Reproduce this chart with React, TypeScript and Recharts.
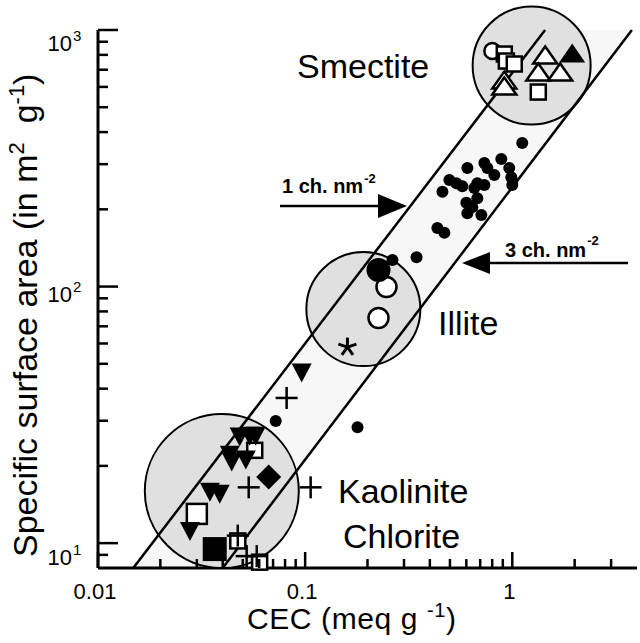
import React from 'react';
import { ComposedChart, Area, Scatter, XAxis, YAxis } from 'recharts';

const W = 640;
const H = 643;
const FONT = 'Liberation Sans, Arial, Helvetica, sans-serif';

// axes: CEC (meq/g) vs specific surface area (m2/g), both log
const xTicks = [0.01, 0.02, 0.03, 0.04, 0.05, 0.06, 0.07, 0.08, 0.09, 0.1, 0.2, 0.3, 0.4, 0.5, 0.6, 0.7, 0.8, 0.9, 1, 2, 3];
const xTickLabels: Record<string, string> = { '0.01': '0.01', '0.1': '0.1', '1': '1' };
const yTicks = [9, 10, 20, 30, 40, 50, 60, 70, 80, 90, 100, 200, 300, 400, 500, 600, 700, 800, 900, 1000];
const yTickExponents: Record<string, string> = { '10': '1', '100': '2', '1000': '3' };

// band limits (1 and 3 charges per nm2)
const edge1 = [{ cec: 0.0148, ssa: 8 }, { cec: 1.44, ssa: 1000 }];
const edge3 = [{ cec: 0.04, ssa: 8 }, { cec: 3.78, ssa: 1000 }];
const bandFill = [
  { cec: 0.0148, band: [8, 8] },
  { cec: 0.04, band: [8, 22.8] },
  { cec: 1.44, band: [359, 1000] },
  { cec: 3.78, band: [1000, 1000] },
];

// mineral groups
const zones = [
  { name: 'Smectite', cec: 1.24, ssa: 727 },
  { name: 'Illite', cec: 0.191, ssa: 81.7 },
  { name: 'Kaolinite', cec: 0.0396, ssa: 15.95 },
];
const zoneRadius: Record<string, number> = { Smectite: 59, Illite: 57, Kaolinite: 77 };

// measured samples, one array per symbol
const dots = [
  { cec: 1.117, ssa: 363 }, { cec: 0.885, ssa: 314 }, { cec: 0.967, ssa: 290 }, { cec: 0.989, ssa: 267 },
  { cec: 1.0, ssa: 249 }, { cec: 0.733, ssa: 303 }, { cec: 0.758, ssa: 290 }, { cec: 0.819, ssa: 272 },
  { cec: 0.607, ssa: 290 }, { cec: 0.497, ssa: 260 }, { cec: 0.537, ssa: 253 }, { cec: 0.574, ssa: 246 },
  { cec: 0.678, ssa: 253 }, { cec: 0.733, ssa: 249 }, { cec: 0.656, ssa: 242 }, { cec: 0.46, ssa: 234 },
  { cec: 0.678, ssa: 221 }, { cec: 0.6, ssa: 212 }, { cec: 0.641, ssa: 204 }, { cec: 0.607, ssa: 193 },
  { cec: 0.709, ssa: 190 }, { cec: 0.435, ssa: 169 }, { cec: 0.47, ssa: 162 }, { cec: 0.345, ssa: 130 },
  { cec: 0.264, ssa: 127 }, { cec: 0.0721, ssa: 29.9 }, { cec: 0.179, ssa: 28.3 },
];
const bigDots = [{ cec: 0.226, ssa: 116 }];
const openCircles = [{ cec: 0.247, ssa: 99.6 }, { cec: 0.226, ssa: 75.4 }];
const smallOpenCircles = [{ cec: 0.801, ssa: 828 }];
const openSquares = [
  { cec: 0.915, ssa: 806 }, { cec: 0.936, ssa: 757 }, { cec: 1.022, ssa: 737 }, { cec: 1.335, ssa: 573 },
  { cec: 0.0571, ssa: 23.0 }, { cec: 0.0473, ssa: 10.2 }, { cec: 0.0603, ssa: 8.43 },
];
const bigOpenSquares = [{ cec: 0.03, ssa: 13.0 }];
const openTriangles = [
  { cec: 0.915, ssa: 638 }, { cec: 0.915, ssa: 605 }, { cec: 1.442, ssa: 799 },
  { cec: 1.335, ssa: 686 }, { cec: 1.703, ssa: 686 },
];
const filledTriangles = [{ cec: 1.946, ssa: 813 }];
const downTriangles = [
  { cec: 0.0483, ssa: 25.9 }, { cec: 0.054, ssa: 26.1 }, { cec: 0.0577, ssa: 26.1 }, { cec: 0.0433, ssa: 22.0 },
  { cec: 0.0442, ssa: 20.7 }, { cec: 0.0517, ssa: 21.1 }, { cec: 0.0347, ssa: 15.8 }, { cec: 0.0387, ssa: 15.5 },
  { cec: 0.0278, ssa: 11.1 }, { cec: 0.0962, ssa: 46.0 },
];
const diamonds = [{ cec: 0.0667, ssa: 18.1 }];
const filledSquares = [{ cec: 0.0366, ssa: 9.48 }];
const crosses = [
  { cec: 0.0814, ssa: 36.8 }, { cec: 0.0534, ssa: 16.5 }, { cec: 0.1063, ssa: 16.5 },
  { cec: 0.0473, ssa: 10.7 }, { cec: 0.0522, ssa: 8.9 }, { cec: 0.0584, ssa: 8.9 },
];
const asterisks = [{ cec: 0.16, ssa: 58.1 }];

const SW = 2.5;

const dot = (r: number) => (p: any) => <circle cx={p.cx} cy={p.cy} r={r} fill="#000" />;
const ring = (r: number) => (p: any) => (
  <circle cx={p.cx} cy={p.cy} r={r} fill="#fff" stroke="#000" strokeWidth={SW} />
);
const square = (s: number, filled: boolean) => (p: any) => (
  <rect x={p.cx - s / 2} y={p.cy - s / 2} width={s} height={s}
    fill={filled ? '#000' : '#fff'} stroke="#000" strokeWidth={filled ? 0 : SW} />
);
const triUp = (w: number, h: number, filled: boolean) => (p: any) => (
  <polygon
    points={`${p.cx - w / 2},${p.cy + h / 2} ${p.cx + w / 2},${p.cy + h / 2} ${p.cx},${p.cy - h / 2}`}
    fill={filled ? '#000' : '#fff'} stroke="#000" strokeWidth={filled ? 0 : SW} strokeLinejoin="miter" />
);
const triDown = (w: number, h: number) => (p: any) => (
  <polygon
    points={`${p.cx - w / 2},${p.cy - h / 2} ${p.cx + w / 2},${p.cy - h / 2} ${p.cx},${p.cy + h / 2}`}
    fill="#000" />
);
const diamond = (s: number) => (p: any) => (
  <polygon
    points={`${p.cx},${p.cy - s / 2} ${p.cx + s / 2},${p.cy} ${p.cx},${p.cy + s / 2} ${p.cx - s / 2},${p.cy}`}
    fill="#000" />
);
const plus = (s: number) => (p: any) => (
  <g stroke="#000" strokeWidth={SW}>
    <line x1={p.cx - s / 2} x2={p.cx + s / 2} y1={p.cy} y2={p.cy} />
    <line x1={p.cx} x2={p.cx} y1={p.cy - s / 2} y2={p.cy + s / 2} />
  </g>
);
const star = (s: number) => (p: any) => {
  const r = s / 2;
  const arms = [90, 18, 162, 234, 306].map((a) => (a * Math.PI) / 180);
  return (
    <g stroke="#000" strokeWidth={3}>
      {arms.map((a, i) => (
        <line key={i} x1={p.cx} y1={p.cy} x2={p.cx + r * Math.cos(a)} y2={p.cy - r * Math.sin(a)} />
      ))}
    </g>
  );
};
const zoneShape = (p: any) => (
  <circle cx={p.cx} cy={p.cy} r={zoneRadius[p.payload.name]} fill="#e0e0e0" stroke="#000" strokeWidth={2} />
);
const noShape = () => <g />;

const XTick = ({ x, y, payload }: any) => {
  const v = payload.value;
  const label = xTickLabels[String(v)];
  const len = label ? 16 : 9;
  return (
    <g>
      <line x1={x} x2={x} y1={y} y2={y - len} stroke="#000" strokeWidth={SW} />
      {label && (
        <text x={x - 3} y={y + 31} textAnchor="middle" fontSize={22} fontFamily={FONT} fill="#000">
          {label}
        </text>
      )}
    </g>
  );
};

const yLabelDy: Record<string, number> = { '10': 22, '100': 15, '1000': 21 };

const YTick = ({ x, y, payload }: any) => {
  const key = String(payload.value);
  const exp = yTickExponents[key];
  const len = exp ? 20 : 10;
  return (
    <g>
      <line x1={x} x2={x + len} y1={y} y2={y} stroke="#000" strokeWidth={SW} />
      {exp && (
        <text y={y + yLabelDy[key]} fontSize={22} fontFamily={FONT} fill="#000">
          <tspan x={72} textAnchor="end">10</tspan>
          <tspan x={73} dy={-10} fontSize={15}>{exp}</tspan>
        </text>
      )}
    </g>
  );
};

const Annotations = () => (
  <svg width={W} height={H} style={{ position: 'absolute', left: 0, top: 0, pointerEvents: 'none' }}>
    <g fontFamily={FONT} fill="#000">
      <text x={-557} y={37} transform="rotate(-90)" fontSize={34}>
        Specific surface area (in m<tspan dy={-13} fontSize={22}>2</tspan>
        <tspan dy={13} xmlSpace="preserve">  g</tspan>
        <tspan dy={-13} fontSize={22}>-1</tspan>
        <tspan dy={13}>)</tspan>
      </text>
      <text x={247} y={629} fontSize={30} letterSpacing={0.6}>
        CEC (meq g <tspan dy={-12} fontSize={20}>-1</tspan>
        <tspan dy={12}>)</tspan>
      </text>
      <text x={297} y={78} fontSize={34}>Smectite</text>
      <text x={438} y={335} fontSize={34}>Illite</text>
      <text x={338} y={503} fontSize={34}>Kaolinite</text>
      <text x={343} y={548} fontSize={34}>Chlorite</text>

      <text x={282} y={193} fontSize={20} fontWeight="bold">
        1 ch. nm<tspan dx={1} dy={-10} fontSize={13}>-2</tspan>
      </text>
      <line x1={280} x2={380} y1={206} y2={206} stroke="#000" strokeWidth={2.5} />
      <polygon points="378,194 407,206 378,218" fill="#000" />

      <text x={505} y={257} fontSize={20} fontWeight="bold">
        3 ch. nm<tspan dx={1} dy={-12} fontSize={13}>-2</tspan>
      </text>
      <line x1={488} x2={628} y1={263} y2={263} stroke="#000" strokeWidth={2.5} />
      <polygon points="490,252 462,263 490,274" fill="#000" />
    </g>
  </svg>
);

const App = () => (
  <div style={{ position: 'absolute', left: 0, top: 0, width: W, height: H, background: '#fff' }}>
    <ComposedChart width={W} height={H} margin={{ top: 30, right: 3, bottom: 30, left: 38 }}>
      <XAxis
        type="number" dataKey="cec" scale="log" domain={[0.01, 4]} ticks={xTicks} interval={0}
        tick={XTick} tickLine={false} tickSize={0} tickMargin={0} height={45}
        axisLine={{ stroke: '#000', strokeWidth: 3 }}
      />
      <XAxis
        xAxisId="top" orientation="top" type="number" scale="log" domain={[0.01, 4]}
        tick={false} tickLine={false} height={0} axisLine={{ stroke: '#000', strokeWidth: 2 }}
      />
      <YAxis
        type="number" dataKey="ssa" scale="log" domain={[8, 1000]} ticks={yTicks} interval={0}
        tick={YTick} tickLine={false} tickSize={0} tickMargin={0} width={60}
        axisLine={{ stroke: '#000', strokeWidth: 3 }}
      />
      <YAxis
        yAxisId="right" orientation="right" type="number" scale="log" domain={[8, 1000]}
        tick={false} tickLine={false} width={0} axisLine={{ stroke: '#000', strokeWidth: 2 }}
      />
      <Area data={bandFill} dataKey="band" type="linear" stroke="none" fill="#f7f7f7" fillOpacity={1}
        isAnimationActive={false} />
      <Scatter data={zones} dataKey="ssa" shape={zoneShape} isAnimationActive={false} />
      <Scatter data={edge1} dataKey="ssa" line={{ stroke: '#000', strokeWidth: 2.5 }} shape={noShape}
        isAnimationActive={false} />
      <Scatter data={edge3} dataKey="ssa" line={{ stroke: '#000', strokeWidth: 2.5 }} shape={noShape}
        isAnimationActive={false} />
      <Scatter data={smallOpenCircles} dataKey="ssa" shape={ring(8)} isAnimationActive={false} />
      <Scatter data={openSquares} dataKey="ssa" shape={square(15, false)} isAnimationActive={false} />
      <Scatter data={bigOpenSquares} dataKey="ssa" shape={square(20, false)} isAnimationActive={false} />
      <Scatter data={openTriangles} dataKey="ssa" shape={triUp(24, 17, false)} isAnimationActive={false} />
      <Scatter data={filledTriangles} dataKey="ssa" shape={triUp(26, 19, true)} isAnimationActive={false} />
      <Scatter data={downTriangles} dataKey="ssa" shape={triDown(20, 19)} isAnimationActive={false} />
      <Scatter data={dots} dataKey="ssa" shape={dot(6)} isAnimationActive={false} />
      <Scatter data={openCircles} dataKey="ssa" shape={ring(10)} isAnimationActive={false} />
      <Scatter data={bigDots} dataKey="ssa" shape={dot(12)} isAnimationActive={false} />
      <Scatter data={diamonds} dataKey="ssa" shape={diamond(25)} isAnimationActive={false} />
      <Scatter data={filledSquares} dataKey="ssa" shape={square(24, true)} isAnimationActive={false} />
      <Scatter data={crosses} dataKey="ssa" shape={plus(22)} isAnimationActive={false} />
      <Scatter data={asterisks} dataKey="ssa" shape={star(19)} isAnimationActive={false} />
    </ComposedChart>
    <Annotations />
  </div>
);

export default App;
